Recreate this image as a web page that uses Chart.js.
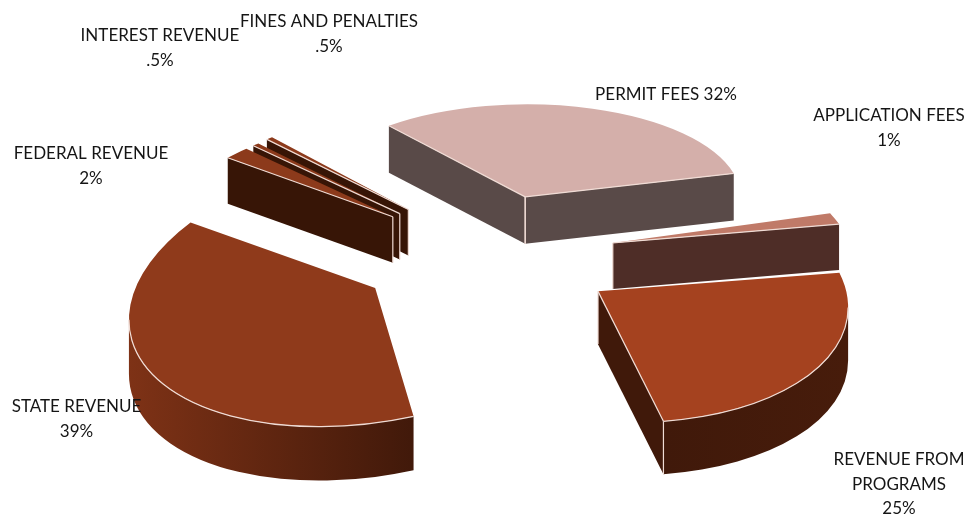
<!DOCTYPE html>
<html>
<head>
<meta charset="utf-8">
<title>Revenue sources</title>
<script src="https://cdn.jsdelivr.net/npm/chart.js@4/dist/chart.umd.min.js"></script>
<style>
    html, body { margin: 0; padding: 0; background: #fff; }
    #graphRevenue { display: block; }
</style>
</head>
<body>
<canvas id="graphRevenue" width="968" height="515"></canvas>
<script>
var categories = ['PERMIT FEES', 'APPLICATION FEES', 'REVENUE FROM PROGRAMS', 'STATE REVENUE', 'FEDERAL REVENUE', 'INTEREST REVENUE', 'FINES AND PENALTIES'];
var revenueShare = [32, 1, 25, 39, 2, 0.5, 0.5];
var labelLines = [
    ['PERMIT FEES 32%'],
    ['APPLICATION FEES', '1%'],
    ['REVENUE FROM', 'PROGRAMS', '25%'],
    ['STATE REVENUE', '39%'],
    ['FEDERAL REVENUE', '2%'],
    ['INTEREST REVENUE', '.5%'],
    ['FINES AND PENALTIES', '.5%']
];

var topColors = ['#d4afaa', '#c07a68', '#a5421f', '#8f3a1b', '#8c3a1b', '#8c3a1b', '#8c3a1b'];
var faceColors = ['#594a48', '#4e2d27', '#40190a', '#41190a', '#371506', '#371506', '#371506'];
var wallLeft = ['#594a48', '#4e2d27', '#40190a', '#7e3216', '#371506', '#371506', '#371506'];
var wallRight = ['#594a48', '#4e2d27', '#471c0b', '#41190a', '#371506', '#371506', '#371506'];

// how far each slice is pulled out of the pie, and a small vertical correction
var explode = [90, 120, 127, 137, 144, 146, 138];
var lift = [-7, 5, 0, 1, 22, 24, 18];
var depth = [47, 46, 53, 54, 46, 46, 46];
// a, b, c, d of the tilt applied to each slice (far slices are flatter and smaller)
var tilt = [
    [0.86, 0.02, -0.012, 0.37],
    [0.98, 0.39, 0.037, 0.70],
    [0.995, 0.104, 0.01, 0.525],
    [0.985, -0.004, -0.125, 0.54],
    [0.86, 0.02, -0.022, 0.383],
    [0.86, 0.02, -0.022, 0.383],
    [0.86, 0.02, -0.022, 0.383]
];
// back to front
var drawOrder = [6, 5, 4, 0, 1, 2, 3];
var edgeColor = '#f0dcd5';

var labelCenters = [[666, 95], [889, 116], [899, 460], [76.5, 407], [91, 154], [160, 36], [329, 22]];
var lineHeight = 24.5;

function rimPoint(o, angle, extra) {
    var r = o.radius, m = o.m;
    var ux = Math.cos(angle) * r, uy = Math.sin(angle) * r;
    return { x: o.x + m[0] * ux + m[1] * uy, y: o.y + m[2] * ux + m[3] * uy + (extra || 0) };
}

// sets the current path to an elliptical arc, the stroke itself stays in screen space
function addRim(ctx, o, from, to, extra, back) {
    var m = o.m;
    ctx.save();
    ctx.translate(o.x, o.y + (extra || 0));
    ctx.transform(m[0], m[2], m[1], m[3], 0, 0);
    ctx.arc(0, 0, o.radius, from, to, !!back);
    ctx.restore();
}

function strokeLine(ctx, a, b) {
    ctx.beginPath();
    ctx.moveTo(a.x, a.y);
    ctx.lineTo(b.x, b.y);
    ctx.stroke();
}

function drawSlice(ctx, arc, i) {
    var mid = (arc.startAngle + arc.endAngle) / 2;
    var o = {
        x: arc.x + Math.cos(mid) * explode[i],
        y: arc.y + Math.sin(mid) * 0.55 * explode[i] + lift[i],
        radius: arc.outerRadius,
        m: tilt[i]
    };
    var d = depth[i];
    var m = o.m;

    // outer wall, only the part of the rim that faces the viewer
    var wallStart = Math.atan2(m[1], m[0]);
    var from = Math.max(arc.startAngle, wallStart);
    var to = Math.min(arc.endAngle, wallStart + Math.PI);
    var hasWall = to > from;
    if (hasWall) {
        var right = rimPoint(o, from), left = rimPoint(o, to);
        var grad = ctx.createLinearGradient(left.x, 0, right.x, 0);
        grad.addColorStop(0, wallLeft[i]);
        grad.addColorStop(1, wallRight[i]);
        ctx.beginPath();
        addRim(ctx, o, from, to, 0);
        addRim(ctx, o, to, from, d, true);
        ctx.closePath();
        ctx.fillStyle = grad;
        ctx.fill();
    }

    // the two cut faces
    var inner = rimPoint(o, mid);
    var edges = [];
    [arc.startAngle, arc.endAngle].forEach(function (angle) {
        var rim = rimPoint(o, angle);
        var ex = rim.x - o.x, ey = rim.y - o.y;
        var cross = ex * (inner.y - o.y) - ey * (inner.x - o.x);
        if (cross * ex < 0) {
            edges.push(rim);
            ctx.beginPath();
            ctx.moveTo(o.x, o.y);
            ctx.lineTo(rim.x, rim.y);
            ctx.lineTo(rim.x, rim.y + d);
            ctx.lineTo(o.x, o.y + d);
            ctx.closePath();
            ctx.fillStyle = faceColors[i];
            ctx.fill();
        }
    });

    // top surface is the library's own arc element
    ctx.save();
    ctx.translate(o.x, o.y);
    ctx.transform(m[0], m[2], m[1], m[3], 0, 0);
    ctx.translate(-arc.x, -arc.y);
    arc.draw(ctx);
    ctx.restore();

    // light edges where the top meets a visible side
    ctx.strokeStyle = edgeColor;
    ctx.lineWidth = 1.2;
    edges.forEach(function (rim) {
        strokeLine(ctx, o, rim);
        strokeLine(ctx, o, { x: o.x, y: o.y + d });
        if (hasWall && Math.abs(rim.x - rimPoint(o, to).x) < 0.5) {
            strokeLine(ctx, rim, { x: rim.x, y: rim.y + d });
        }
    });
    if (hasWall) {
        ctx.beginPath();
        addRim(ctx, o, from, to, 0);
        ctx.stroke();
    }
}

var slices3d = {
    id: 'slices3d',
    beforeDatasetsDraw: function (chart) {
        var ctx = chart.ctx;
        var arcs = chart.getDatasetMeta(0).data;
        drawOrder.forEach(function (i) {
            drawSlice(ctx, arcs[i], i);
        });
        return false;
    },
    afterDraw: function (chart) {
        var ctx = chart.ctx;
        ctx.save();
        ctx.font = '17px Lato';
        ctx.fillStyle = '#151515';
        ctx.textAlign = 'center';
        ctx.textBaseline = 'middle';
        labelLines.forEach(function (lines, i) {
            lines.forEach(function (line, n) {
                ctx.fillText(line, labelCenters[i][0], labelCenters[i][1] + n * lineHeight);
            });
        });
        ctx.restore();
    }
};

new Chart(document.getElementById('graphRevenue').getContext('2d'), {
    type: 'pie',
    data: {
        labels: categories,
        datasets: [
            {
                data: revenueShare,
                backgroundColor: topColors,
                borderWidth: 0
            }
        ]
    },
    options: {
        responsive: false,
        animation: false,
        radius: 250,
        rotation: -38,
        layout: {
            padding: { left: 22, bottom: 14 }
        },
        plugins: {
            legend: { display: false },
            tooltip: { enabled: false }
        }
    },
    plugins: [slices3d]
});
</script>
</body>
</html>
